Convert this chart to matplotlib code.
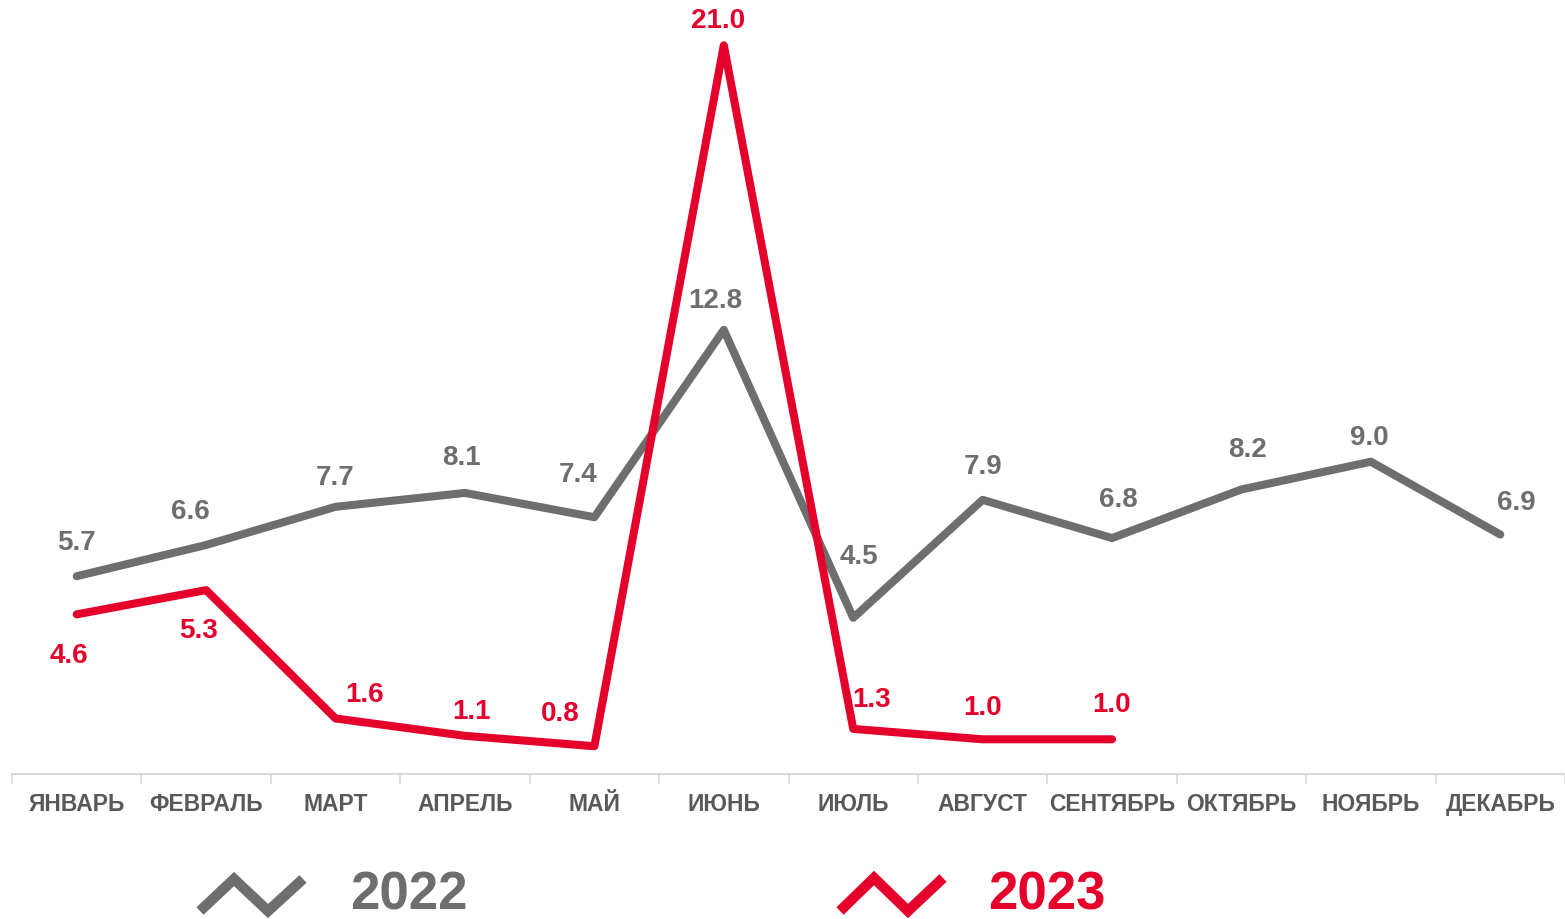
import matplotlib
matplotlib.use("Agg")
import matplotlib.pyplot as plt
from matplotlib.lines import Line2D
import numpy as np

plt.rcParams['font.family'] = ['Liberation Sans', 'DejaVu Sans']

months = ["ЯНВАРЬ", "ФЕВРАЛЬ", "МАРТ", "АПРЕЛЬ", "МАЙ", "ИЮНЬ", "ИЮЛЬ",
          "АВГУСТ", "СЕНТЯБРЬ", "ОКТЯБРЬ", "НОЯБРЬ", "ДЕКАБРЬ"]
vals_2022 = [5.7, 6.6, 7.7, 8.1, 7.4, 12.8, 4.5, 7.9, 6.8, 8.2, 9.0, 6.9]
vals_2023 = [4.6, 5.3, 1.6, 1.1, 0.8, 21.0, 1.3, 1.0, 1.0]

# label offsets in pixels (dx, dy)
off_2022 = [(0, 34), (-16, 34), (0, 30), (-4, 36), (-16, 43), (-8, 30),
            (6, 62), (0, 34), (6, 39), (6, 40), (-2, 25), (16, 33)]
off_2023 = [(-8, -41), (-8, -40), (29, 24), (7, 25), (-34, 33), (-6, 25),
            (18, 30), (0, 32), (0, 35)]

GREY = '#6e6e6e'
RED = '#e4002b'
W, H = 1565, 920

fig = plt.figure(figsize=(W / 100, H / 100), dpi=100)
ax = fig.add_axes([12 / W, (H - 775) / H, 1 - 12 / W, (775 - 11.6) / H])

x22 = np.arange(len(vals_2022))
x23 = np.arange(len(vals_2023))
ax.plot(x22, vals_2022, color=GREY, lw=5.8, solid_capstyle='round', solid_joinstyle='round', zorder=2)
ax.plot(x23, vals_2023, color=RED, lw=5.8, solid_capstyle='round', solid_joinstyle='round', zorder=3)

for xi, v, (dx, dy) in zip(x22, vals_2022, off_2022):
    ax.annotate(f"{v:.1f}", (xi, v), xytext=(dx, dy), textcoords='offset pixels',
                ha='center', va='center', fontsize=20, fontweight='bold', color=GREY)
for xi, v, (dx, dy) in zip(x23, vals_2023, off_2023):
    ax.annotate(f"{v:.1f}", (xi, v), xytext=(dx, dy), textcoords='offset pixels',
                ha='center', va='center', fontsize=20, fontweight='bold', color=RED)

ax.set_xlim(-0.5, -0.5 + 1553 / 129.6)
ax.set_ylim(0, 22)
ax.set_yticks([])
for s in ['top', 'right', 'left']:
    ax.spines[s].set_visible(False)
ax.spines['bottom'].set_color('#d9d9d9')
ax.spines['bottom'].set_linewidth(1.5)

ax.set_xticks(x22)
ax.set_xticklabels(months, fontsize=16.5, fontweight='bold', color='#595959')
ax.tick_params(axis='x', which='major', length=0, pad=13)
ax.set_xticks(np.arange(-0.5, 12, 1), minor=True)
ax.tick_params(axis='x', which='minor', length=7, width=1.2, color='#d9d9d9')

# legend
def icon(xs, ys, color):
    fig.add_artist(Line2D([x / W for x in xs], [1 - y / H for y in ys],
                          transform=fig.transFigure, color=color, lw=7.5,
                          solid_joinstyle='miter', solid_capstyle='butt'))

icon([200, 234, 268, 303], [912, 880, 912, 880], GREY)
icon([840, 874, 908, 943], [912, 879, 912, 879], RED)
fig.text(350 / W, 1 - 896 / H, "2022", fontsize=38, fontweight='bold', color=GREY,
         ha='left', va='center')
fig.text(988 / W, 1 - 896 / H, "2023", fontsize=38, fontweight='bold', color=RED,
         ha='left', va='center')

fig.savefig("out.png", dpi=100)
